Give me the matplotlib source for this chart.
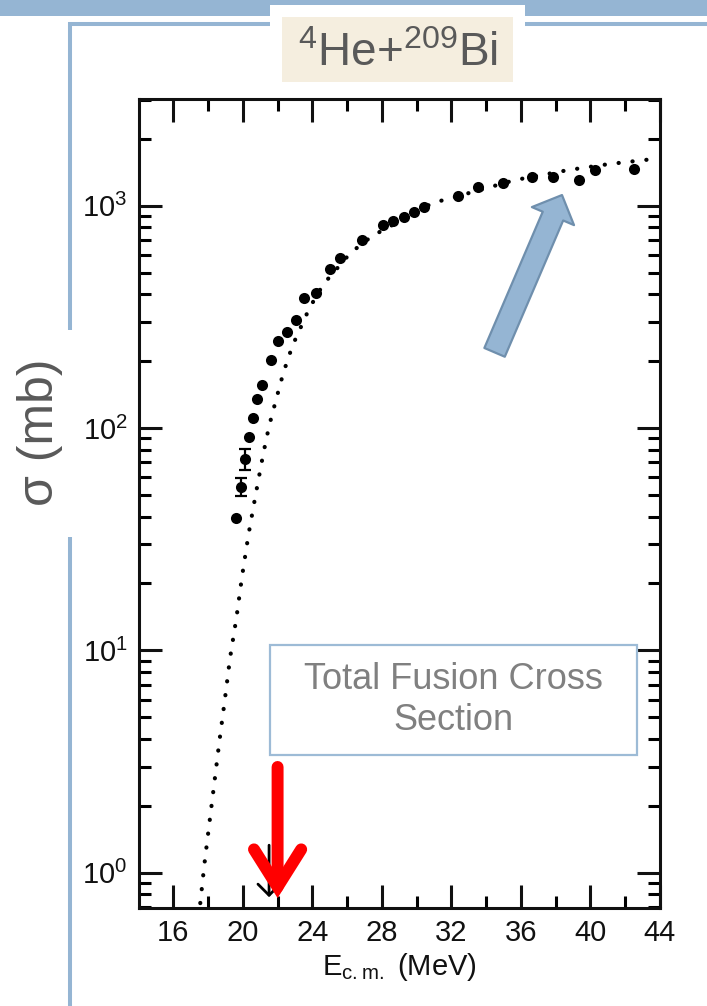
import numpy as np
import matplotlib
matplotlib.use("Agg")
import matplotlib.pyplot as plt
from matplotlib.patches import Rectangle, FancyArrowPatch, ArrowStyle
from matplotlib.lines import Line2D
from matplotlib.ticker import FixedLocator, NullFormatter, LogLocator

plt.rcParams['font.family'] = ['Liberation Sans', 'DejaVu Sans']

# ---------------- data ----------------
energy_exp = [19.61, 19.88, 20.13, 20.36, 20.60, 20.83, 21.09, 21.61, 22.04, 22.53,
              23.06, 23.54, 24.21, 25.02, 25.59, 26.84, 28.07, 28.67, 29.28, 29.85,
              30.40, 32.37, 33.55, 35.00, 36.62, 37.85, 39.33, 40.27, 42.50]
sigma_exp = [39.6, 54.4, 72.5, 90.8, 111, 135, 157, 202, 247, 271,
             306, 385, 406, 517, 580, 701, 819, 853, 892, 941,
             986, 1109, 1218, 1268, 1346, 1342, 1301, 1443, 1463]

err_energy = [19.88, 20.13]
err_sigma = [54.4, 72.5]
err_size = [5, 8]

energy_calc = [17.55, 17.78, 18.07, 18.36, 18.65, 18.96, 19.26, 19.63, 19.95, 20.32,
               20.74, 21.18, 21.51, 21.91, 22.33, 22.85, 23.83, 24.63, 26.21, 27.45,
               30.96, 31.74, 35.67, 38.73, 41.09, 43.48]
sigma_calc = [0.73, 1.08, 1.66, 2.54, 3.90, 5.97, 9.2, 14.0, 21.4, 33.0,
              50.3, 76.9, 102, 134, 177, 234, 346, 443, 615, 731,
              1032, 1069, 1305, 1447, 1540, 1617]

x_major_ticks = [16, 20, 24, 28, 32, 36, 40, 44]
x_minor_ticks = [18, 22, 26, 30, 34, 38, 42]
x_tick_labels = ['16', '20', '24', '28', '32', '36', '40', '44']
y_major_ticks = [1, 10, 100, 1000]
y_tick_labels = [r'$\mathregular{10^{0}}$', r'$\mathregular{10^{1}}$',
                 r'$\mathregular{10^{2}}$', r'$\mathregular{10^{3}}$']

title_text = r'$\mathregular{{}^{4}He{+}{}^{209}Bi}$'
box_text = 'Total Fusion Cross\nSection'
ylabel_text = 'σ (mb)'
xlabel_text = r'$\mathregular{E_{c.m.}}$ (MeV)'

# ---------------- figure ----------------
W, H = 707, 1006
fig = plt.figure(figsize=(W / 100, H / 100), dpi=100)
fig.patch.set_facecolor('white')

def fx(px):
    return px / W

def fy(py):
    return 1 - py / H

BLUE = '#95B5D3'
ax = fig.add_axes([fx(138.6), fy(908), (659.8 - 138.6) / W, (908 - 99) / H])

ax.plot(energy_calc, sigma_calc, color='black', lw=3.0,
        linestyle=(0, (0.05, 3.3)), dash_capstyle='round', zorder=2)
ax.errorbar(err_energy, err_sigma, yerr=err_size, fmt='none', ecolor='black',
            elinewidth=1.6, capsize=4.5, capthick=1.6, zorder=3)
ax.plot(energy_exp, sigma_exp, 'o', color='black', ms=8.0, mew=0, zorder=4)

ax.set_yscale('log')
ax.set_xlim(14, 44)
ax.set_ylim(0.694, 3020)

ax.xaxis.set_major_locator(FixedLocator(x_major_ticks))
ax.xaxis.set_minor_locator(FixedLocator(x_minor_ticks))
ax.set_xticklabels(x_tick_labels)
ax.yaxis.set_major_locator(FixedLocator(y_major_ticks))
ax.set_yticklabels(y_tick_labels)
ax.yaxis.set_minor_locator(LogLocator(base=10, subs=np.arange(2, 10)))
ax.yaxis.set_minor_formatter(NullFormatter())

ax.tick_params(which='major', direction='in', length=16.5, width=2.2,
               top=True, right=True, labelsize=21, colors='#111111')
ax.tick_params(axis='x', which='major', pad=8)
ax.tick_params(axis='y', which='major', pad=8)
ax.tick_params(which='minor', direction='in', length=8.5, width=2.2,
               top=True, right=True)
for s in ax.spines.values():
    s.set_linewidth(2.2)
    s.set_color('#111111')

ax.set_xlabel(xlabel_text, fontsize=21, labelpad=3, color='#111111')

# upper-limit arrow from original figure
ax.add_patch(FancyArrowPatch((21.51, 1.33), (21.51, 0.776),
                             arrowstyle=ArrowStyle('->', head_length=8, head_width=8),
                             mutation_scale=1, lw=2.0, color='black',
                             shrinkA=0, shrinkB=0, zorder=5))

# red arrow
ax.add_patch(FancyArrowPatch((22.0, 2.99), (22.0, 0.769),
                             arrowstyle=ArrowStyle('->', head_length=27, head_width=17),
                             mutation_scale=1, lw=8.6, color='#FF0000',
                             capstyle='round', joinstyle='miter',
                             shrinkA=0, shrinkB=0, zorder=6, clip_on=False))

# blue block arrow
ax.add_patch(FancyArrowPatch((34.49, 219), (38.37, 1117),
                             arrowstyle=ArrowStyle('simple', head_length=16.5,
                                                   head_width=33, tail_width=16),
                             mutation_scale=1, lw=1.6, facecolor=BLUE,
                             edgecolor='#6F8FAD', shrinkA=0, shrinkB=0, zorder=6))

# ---------------- slide decorations ----------------
fig.add_artist(Rectangle((0, fy(16)), 1, 16 / H, transform=fig.transFigure,
                         facecolor=BLUE, edgecolor='none', zorder=1))
fig.add_artist(Rectangle((fx(270), fy(16)), (525 - 270) / W, 11 / H,
                         transform=fig.transFigure, facecolor='white',
                         edgecolor='none', zorder=1.5))
frame_lw = 2.9
fig.add_artist(Line2D([fx(68), fx(270)], [fy(24), fy(24)], transform=fig.transFigure,
                      color=BLUE, lw=frame_lw, solid_capstyle='butt'))
fig.add_artist(Line2D([fx(525), fx(707)], [fy(24), fy(24)], transform=fig.transFigure,
                      color=BLUE, lw=frame_lw, solid_capstyle='butt'))
fig.add_artist(Line2D([fx(70), fx(70)], [fy(22), fy(330)], transform=fig.transFigure,
                      color=BLUE, lw=frame_lw, solid_capstyle='butt'))
fig.add_artist(Line2D([fx(70), fx(70)], [fy(537), fy(1006)], transform=fig.transFigure,
                      color=BLUE, lw=frame_lw, solid_capstyle='butt'))

fig.add_artist(Rectangle((fx(282), fy(82)), (513 - 282) / W, (82 - 17) / H,
                         transform=fig.transFigure, facecolor='#F5EEDF',
                         edgecolor='none', zorder=2))
fig.text(fx(397.5), fy(65.7), title_text, fontsize=33, color='#595959',
         ha='center', va='baseline', zorder=3)

fig.add_artist(Rectangle((fx(270), fy(755)), (637 - 270) / W, (755 - 645) / H,
                         transform=fig.transFigure, facecolor='white',
                         edgecolor='#9DBBD6', lw=1.6, zorder=2))
fig.text(fx(453.5), fy(700), box_text, fontsize=26, color='#808080',
         ha='center', va='center', multialignment='center', zorder=3)

fig.text(fx(40), fy(432), ylabel_text, fontsize=36, color='#595959',
         rotation=90, ha='center', va='center')

fig.savefig('out.png', dpi=100)
